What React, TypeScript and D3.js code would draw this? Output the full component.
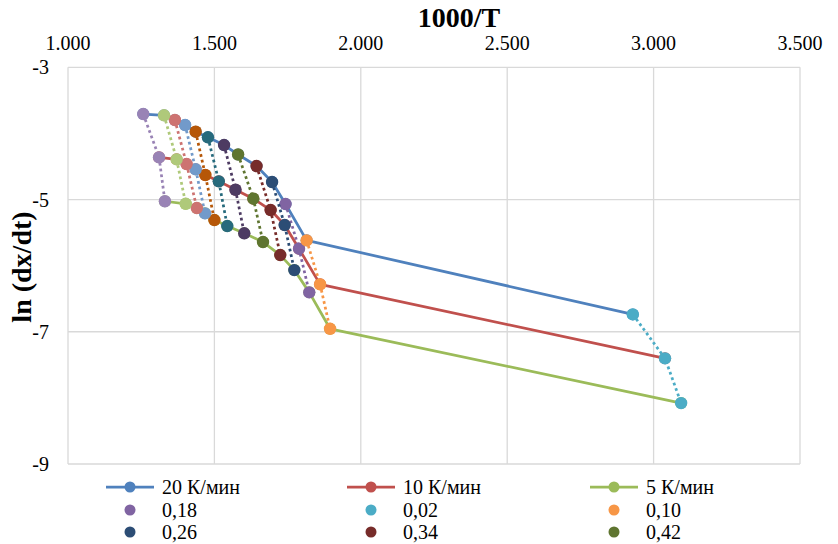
import React, { useRef, useEffect } from "react";
import * as d3 from "d3";

// conversion degrees (one point per heating rate for each)
const conversions = ["0,02", "0,10", "0,18", "0,26", "0,34", "0,42", "0,50", "0,58", "0,66", "0,74", "0,82", "0,90", "0,98"];

// 20 K/min
const x20 = [2.929, 1.815, 1.743, 1.697, 1.644, 1.581, 1.533, 1.478, 1.436, 1.400, 1.365, 1.328, 1.257];
const y20 = [-6.737, -5.617, -5.068, -4.735, -4.493, -4.319, -4.176, -4.059, -3.974, -3.873, -3.797, -3.726, -3.707];
// 10 K/min
const x10 = [3.039, 1.861, 1.789, 1.740, 1.692, 1.633, 1.572, 1.515, 1.469, 1.436, 1.405, 1.371, 1.311];
const y10 = [-7.402, -6.283, -5.744, -5.386, -5.159, -4.988, -4.852, -4.725, -4.629, -4.543, -4.463, -4.392, -4.362];
// 5 K/min
const x5 = [3.094, 1.895, 1.824, 1.773, 1.725, 1.666, 1.602, 1.544, 1.500, 1.468, 1.440, 1.402, 1.331];
const y5 = [-8.079, -6.955, -6.404, -6.067, -5.840, -5.643, -5.511, -5.401, -5.310, -5.209, -5.129, -5.064, -5.026];

const rateNames = ["20 К/мин", "10 К/мин", "5 К/мин"];
const rateColors = ["#4F81BD", "#C0504D", "#9BBB59"];

// dotted series, in the order the workbook has them
const seriesNames = ["0,18", "0,02", "0,10", "0,26", "0,34", "0,42", "0,50", "0,58", "0,66", "0,74", "0,82", "0,90", "0,98"];
const seriesColors = ["#8064A2", "#4BACC6", "#F79646", "#2C4D75", "#772C2A", "#5F7530", "#4D3B62", "#276A7C", "#B65708", "#729ACA", "#CD7371", "#AFC97A", "#9983B5"];

const xTicks = [1, 1.5, 2, 2.5, 3, 3.5];
const yTicks = [-3, -5, -7, -9];

const W = 838, H = 544;
const serif = "Liberation Serif, Times New Roman, serif";

const App = () => {
  const svgRef = useRef<SVGSVGElement>(null);

  useEffect(() => {
    const svg = d3.select(svgRef.current);
    svg.selectAll("*").remove();

    const x = d3.scaleLinear().domain([1, 3.5]).range([68, 800]);
    const y = d3.scaleLinear().domain([-3, -9]).range([67.3, 464]);

    // grid
    const grid = svg.append("g");
    grid.selectAll(".gx").data(xTicks).join("line")
      .attr("x1", d => x(d)).attr("x2", d => x(d))
      .attr("y1", y(-3)).attr("y2", y(-9))
      .attr("stroke", "#d9d9d9").attr("stroke-width", 1.3);
    grid.selectAll(".gy").data(yTicks).join("line")
      .attr("x1", x(1)).attr("x2", x(3.5))
      .attr("y1", d => y(d)).attr("y2", d => y(d))
      .attr("stroke", "#d9d9d9").attr("stroke-width", 1.3);

    // tick labels
    const fmt = d3.format(".3f");
    svg.append("g").selectAll("text").data(xTicks).join("text")
      .attr("x", d => x(d)).attr("y", 50)
      .attr("text-anchor", "middle")
      .attr("font-family", serif).attr("font-size", 20).attr("fill", "#000")
      .text(d => fmt(d));
    svg.append("g").selectAll("text").data(yTicks).join("text")
      .attr("x", 49).attr("y", d => y(d)).attr("dy", "0.35em")
      .attr("text-anchor", "end")
      .attr("font-family", serif).attr("font-size", 20).attr("fill", "#000")
      .text(d => String(d));

    // axis titles
    svg.append("text")
      .attr("x", 459).attr("y", 27)
      .attr("text-anchor", "middle")
      .attr("font-family", serif).attr("font-size", 28).attr("font-weight", "bold")
      .text("1000/T");
    svg.append("text")
      .attr("transform", "translate(31,267) rotate(-90)")
      .attr("text-anchor", "middle")
      .attr("font-family", serif).attr("font-size", 28).attr("font-weight", "bold")
      .text("ln (dx/dt)");

    const rates = [
      { xs: x20, ys: y20 },
      { xs: x10, ys: y10 },
      { xs: x5, ys: y5 },
    ];
    const pt = (r: number, i: number): [number, number] => [x(rates[r].xs[i]), y(rates[r].ys[i])];

    const path = d3.line();

    // heating-rate lines
    rates.forEach((r, k) => {
      const pts = r.xs.map((_, i) => pt(k, i));
      svg.append("path").attr("d", path(pts))
        .attr("fill", "none").attr("stroke", rateColors[k]).attr("stroke-width", 2.75)
        .attr("stroke-linejoin", "round");
      svg.append("g").selectAll("circle").data(pts).join("circle")
        .attr("cx", d => d[0]).attr("cy", d => d[1]).attr("r", 6)
        .attr("fill", rateColors[k]);
    });

    // iso-conversion dotted series
    seriesNames.forEach((name, s) => {
      const i = conversions.indexOf(name);
      const pts = [0, 1, 2].map(k => pt(k, i));
      svg.append("path").attr("d", path(pts))
        .attr("fill", "none").attr("stroke", seriesColors[s]).attr("stroke-width", 2.75)
        .attr("stroke-dasharray", "2.75 3");
      svg.append("g").selectAll("circle").data(pts).join("circle")
        .attr("cx", d => d[0]).attr("cy", d => d[1]).attr("r", 6.2)
        .attr("fill", seriesColors[s]);
    });

    // legend (3 columns, only first 9 entries fit)
    const entries = [
      ...rateNames.map((n, k) => ({ name: n, color: rateColors[k], line: true })),
      ...seriesNames.slice(0, 6).map((n, s) => ({ name: n, color: seriesColors[s], line: false })),
    ];
    const colX = [106, 347, 590];
    const rowY = [487, 510, 532];
    const lg = svg.append("g");
    entries.forEach((e, j) => {
      const cx = colX[j % 3], cy = rowY[Math.floor(j / 3)];
      if (e.line) {
        lg.append("line").attr("x1", cx).attr("x2", cx + 48).attr("y1", cy).attr("y2", cy)
          .attr("stroke", e.color).attr("stroke-width", 2.75);
      }
      lg.append("circle").attr("cx", cx + 24).attr("cy", cy).attr("r", 5.5).attr("fill", e.color);
      lg.append("text").attr("x", cx + 56).attr("y", cy).attr("dy", "0.35em")
        .attr("font-family", serif).attr("font-size", 20).attr("fill", "#000")
        .text(e.name);
    });
  }, []);

  return (
    <svg ref={svgRef} width={W} height={H}
      style={{ position: "absolute", left: 0, top: 0, background: "#fff" }} />
  );
};

export default App;
